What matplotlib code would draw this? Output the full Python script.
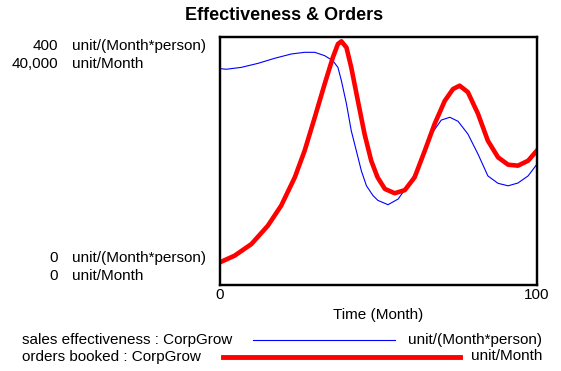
import matplotlib
matplotlib.use("Agg")
import matplotlib.pyplot as plt

plt.rcParams['font.family'] = ['Liberation Sans', 'DejaVu Sans']

# sales effectiveness : CorpGrow  (unit/(Month*person))
eff_t = [0, 2, 6.7, 12, 17.2, 22.5, 26.7, 29.9, 33, 35.6, 37.2, 38.3, 39.9, 41.4,
         43, 44.6, 46.2, 48.3, 49.8, 53, 56.2, 60.3, 63.5, 66.7, 69.8, 72.5, 75.1,
         78.2, 81.4, 84.5, 87.7, 90.9, 94, 97.2, 100]
eff = [349, 348, 351, 357.5, 365.6, 372.6, 375.3, 375.3, 369.9, 361.8, 351, 329.5,
       292, 249, 216.6, 184, 160, 144, 136.5, 129.5, 138.7, 168, 200.5, 243.5, 266,
       270.5, 264, 243.5, 211, 176, 164, 160, 164.5, 176, 195]

# orders booked : CorpGrow  (unit/Month)
ord_t = [0, 4.6, 9.9, 15.1, 19.3, 23.6, 26.7, 29.9, 33, 35.6, 37.2, 38.3, 39.9,
         41.4, 43.5, 45.6, 47.7, 49.7, 52, 55.1, 58.3, 61.4, 64.6, 67.7, 70.9, 73.5,
         75.6, 78.2, 81.4, 84.5, 87.7, 90.9, 94, 97.2, 100]
orders = [3660, 4730, 6600, 9570, 12800, 17370, 21660, 27050, 32400, 36700, 38870,
          39300, 38300, 35100, 29700, 24350, 20050, 17370, 15500, 14800, 15300,
          17370, 21660, 25970, 29700, 31600, 32150, 31100, 27600, 23270, 20600,
          19400, 19250, 20050, 21700]

fig = plt.figure(figsize=(5.61, 3.71), dpi=100)
ax = fig.add_axes([220 / 561, 1 - 285 / 371, 317 / 561, 248 / 371])
ax2 = ax.twinx()

ax.plot(eff_t, eff, color='#0000ff', lw=0.8)
ax2.plot(ord_t, orders, color='#ff0000', lw=3.3, solid_joinstyle='round')

ax.set_xlim(0, 100)
ax.set_ylim(0, 400)
ax2.set_ylim(0, 40000)
ax.set_yticks([])
ax2.set_yticks([])
ax.set_xticks([0, 100])
ax.set_xticklabels(['0', '100'], fontsize=11)
ax.tick_params(axis='x', length=0, pad=2)
for a in (ax, ax2):
    for s in a.spines.values():
        s.set_linewidth(1.6)
        s.set_color('black')

fs = 11
W, H = 561, 371


def px(x, y):
    return x / W, 1 - y / H


fig.text(*px(284, 16), 'Effectiveness & Orders', ha='center', va='center',
         fontsize=13, fontweight='bold')

# axis scale labels
for y, num, unit in [(46, '400', 'unit/(Month*person)'), (64, '40,000', 'unit/Month'),
                     (258, '0', 'unit/(Month*person)'), (276, '0', 'unit/Month')]:
    fig.text(*px(58, y), num, ha='right', va='center', fontsize=fs)
    fig.text(*px(72, y), unit, ha='left', va='center', fontsize=fs)

fig.text(*px(378, 315), 'Time (Month)', ha='center', va='center', fontsize=fs)

# legend rows
fig.text(*px(22, 340), 'sales effectiveness : CorpGrow', ha='left', va='center', fontsize=fs)
fig.text(*px(542, 340), 'unit/(Month*person)', ha='right', va='center', fontsize=fs)
fig.add_artist(plt.Line2D([253 / W, 395 / W], [1 - 340 / H] * 2, color='#0000ff', lw=0.8))
fig.text(*px(22, 356.5), 'orders booked : CorpGrow', ha='left', va='center', fontsize=fs)
fig.text(*px(542, 356.5), 'unit/Month', ha='right', va='center', fontsize=fs)
fig.add_artist(plt.Line2D([223 / W, 460 / W], [1 - 356.5 / H] * 2, color='#ff0000', lw=3.5))

fig.savefig('out.png', dpi=100)
